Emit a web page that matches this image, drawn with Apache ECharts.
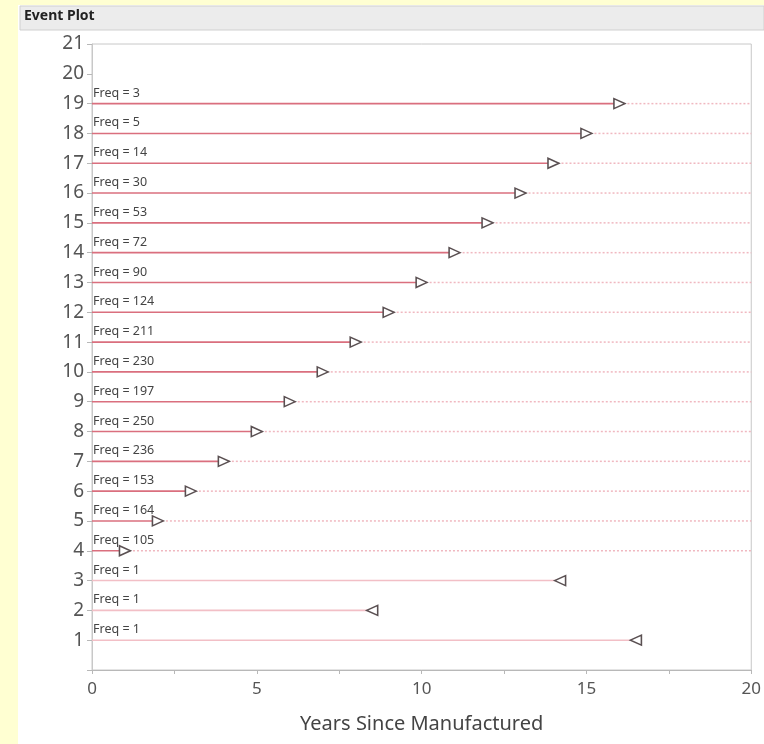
<!DOCTYPE html>
<html>
<head>
<meta charset="utf-8">
<script src="https://cdn.jsdelivr.net/npm/echarts@6/dist/echarts.min.js"></script>
<style>
  html, body { margin: 0; padding: 0; background: #fff; }
  #chart { width: 764px; height: 744px; }
</style>
</head>
<body>
<div id="chart"></div>
<script>
// one row per unit / group, bottom to top
const rowIds = [1, 2, 3, 4, 5, 6, 7, 8, 9, 10, 11, 12, 13, 14, 15, 16, 17, 18, 19];
const eventYears = [16.5, 8.5, 14.2, 1, 2, 3, 4, 5, 6, 7, 8, 9, 10, 11, 12, 13, 14, 15, 16];
const freqs = [1, 1, 1, 105, 164, 153, 236, 250, 197, 230, 211, 124, 90, 72, 53, 30, 14, 5, 3];
const censorKind = ["left", "left", "left", "right", "right", "right", "right", "right", "right",
  "right", "right", "right", "right", "right", "right", "right", "right", "right", "right"];
const xTicks = [0, 5, 10, 15, 20];
const yMax = 21;

const font = "Noto Sans";
const rows = rowIds.map((id, i) => [eventYears[i], id, freqs[i], censorKind[i]]);

const chart = echarts.init(document.getElementById("chart"));

chart.setOption({
  backgroundColor: "#ffffff",
  animation: false,
  textStyle: { fontFamily: font },
  graphic: [
    { type: "rect", shape: { x: 0, y: 0, width: 18, height: 744 }, style: { fill: "#ffffd2" }, silent: true },
    { type: "rect", shape: { x: 0, y: 0, width: 764, height: 5 }, style: { fill: "#ffffd2" }, silent: true },
    { type: "rect", shape: { x: 20, y: 6, width: 744, height: 24 },
      style: { fill: "#ececec", stroke: "#d0d0d0", lineWidth: 1 }, silent: true },
    { type: "text", left: 24, top: 9,
      style: { text: "Event Plot", font: "bold 14px 'Noto Sans'", fill: "#222" }, silent: true }
  ],
  grid: {
    left: 92, right: 12, top: 44, bottom: 74,
    show: true, borderColor: "#c8c8c8", borderWidth: 1
  },
  xAxis: {
    type: "value",
    min: xTicks[0],
    max: xTicks[xTicks.length - 1],
    interval: 5,
    name: "Years Since Manufactured",
    nameLocation: "middle",
    nameGap: 44,
    nameTextStyle: { fontSize: 20, color: "#444" },
    axisLine: { lineStyle: { color: "#b8b8b8" } },
    axisTick: { show: true, length: 4, lineStyle: { color: "#b8b8b8" } },
    minorTick: { show: true, splitNumber: 2, length: 4, lineStyle: { color: "#b8b8b8" } },
    axisLabel: { fontSize: 17, color: "#555", margin: 11 },
    splitLine: { show: false }
  },
  yAxis: {
    type: "value",
    min: 0,
    max: yMax,
    interval: 1,
    axisLine: { show: true, lineStyle: { color: "#c8c8c8" } },
    axisTick: { show: true, length: 5, lineStyle: { color: "#b8b8b8" } },
    axisLabel: {
      fontSize: 19, color: "#555", margin: 8,
      formatter: v => (v === 0 ? "" : String(v))
    },
    splitLine: { show: false }
  },
  series: [
    {
      type: "custom",
      data: rows,
      z: 2,
      renderItem: (params, api) => {
        const x = api.value(0);
        const y = api.value(1);
        const kind = censorKind[params.dataIndex];
        const start = api.coord([0, y]);
        const end = api.coord([x, y]);
        const far = api.coord([20, y]);
        const py = start[1];
        const children = [];
        if (kind === "right") {
          children.push({
            type: "line",
            shape: { x1: end[0], y1: py, x2: far[0], y2: py },
            style: { stroke: "#f0b8c0", lineWidth: 1.5, lineDash: [2, 2] }
          });
          children.push({
            type: "line",
            shape: { x1: start[0], y1: py, x2: end[0], y2: py },
            style: { stroke: "#da6f7e", lineWidth: 1.6 }
          });
        } else {
          children.push({
            type: "line",
            shape: { x1: start[0], y1: py, x2: end[0], y2: py },
            style: { stroke: "#f2bfc6", lineWidth: 1.6 }
          });
        }
        children.push({
          type: "text",
          x: start[0] + 1,
          y: py - 4,
          style: {
            text: "Freq = " + api.value(2),
            font: "12.5px 'Noto Sans'",
            fill: "#444",
            textVerticalAlign: "bottom"
          }
        });
        return { type: "group", children };
      }
    },
    {
      type: "scatter",
      z: 3,
      data: rows.map(r => ({
        value: [r[0], r[1]],
        symbolRotate: r[3] === "right" ? -90 : 90
      })),
      symbol: "triangle",
      symbolSize: [10, 11],
      itemStyle: { color: "#ffffff", borderColor: "#5a5052", borderWidth: 1.5, opacity: 1 }
    }
  ]
});
</script>
</body>
</html>
